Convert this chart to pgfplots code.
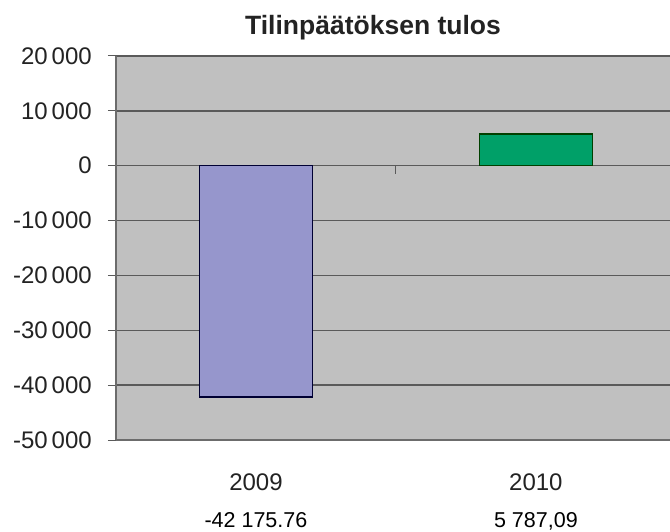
\documentclass[border=0pt]{standalone}
\usepackage{fontspec}
\setmainfont{Liberation Sans}
\usepackage{pgfplots}
\pgfplotsset{compat=1.18}
\definecolor{bg}{RGB}{192,192,192}
\definecolor{gridc}{RGB}{90,90,90}
\definecolor{barA}{RGB}{150,150,204}
\definecolor{barB}{RGB}{0,160,104}
\definecolor{txt}{RGB}{35,35,35}
\begin{document}
\begin{tikzpicture}
\useasboundingbox (0,0) rectangle (670pt,531pt);
\fill[white] (0,0) rectangle (670pt,531pt);
\node[anchor=base, font=\fontsize{26.5}{30}\selectfont\bfseries, text=txt] at (373pt,496.5pt) {Tilinpäätöksen tulos};
\begin{axis}[
 at={(116pt,475pt)}, anchor=north west,
 scale only axis, width=554pt, height=384pt,
 xmin=-0.5, xmax=1.479, ymin=-50000, ymax=20000,
 scaled y ticks=false,
 axis lines*=left,
 axis line style={draw=gray!85!black, line width=1.2pt},
 axis background/.style={fill=bg},
 ytick={-50000,-40000,...,20000},
 yticklabels={-50\,000,-40\,000,-30\,000,-20\,000,-10\,000,0,10\,000,20\,000},
 ymajorgrids, grid style={draw=gridc, line width=1.3pt},
 xtick={0,1}, xticklabels={2009,2010},
 x tick style={draw=none},
 y tick style={draw=gridc, line width=1pt},
 tick align=outside, major tick length=8pt,
 tick label style={font=\fontsize{24}{28}\selectfont, text=txt, inner sep=0pt},
 yticklabel style={anchor=east, xshift=-16pt},
 xticklabel style={anchor=base, yshift=-42pt},
 clip=false,
]
\addplot[ybar, bar width=113pt, bar shift=0pt, fill=barA, draw=black!80!blue, line width=1.2pt] coordinates {(0,-42175.76)};
\addplot[ybar, bar width=113pt, bar shift=0pt, fill=barB, draw=black!75!green, line width=1.2pt] coordinates {(1,5787.09)};
\addplot[draw=gridc, line width=1pt] coordinates {(0.5,0) (0.5,-1500)};
\node[anchor=base, font=\fontsize{21.5}{24}\selectfont, text=black] at (axis cs:0,-50000) [yshift=-87pt] {-42 175.76};
\node[anchor=base, font=\fontsize{21.5}{24}\selectfont, text=black] at (axis cs:1,-50000) [yshift=-87pt] {5 787,09};
\end{axis}
\end{tikzpicture}
\end{document}
